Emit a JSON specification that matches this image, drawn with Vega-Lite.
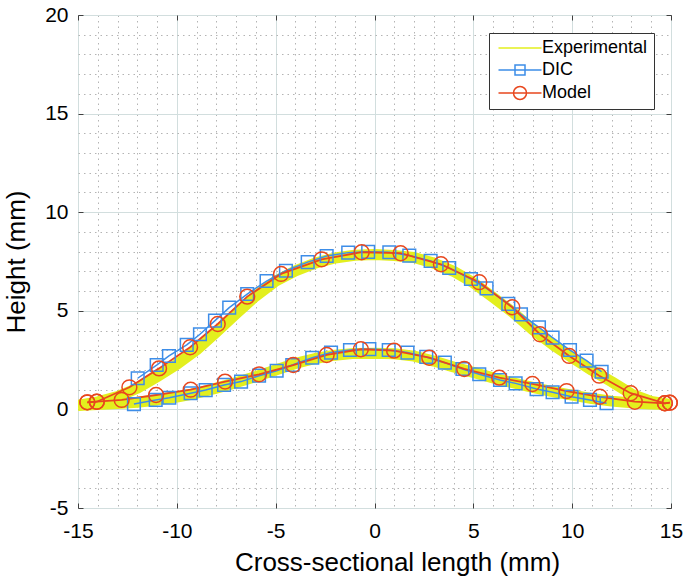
{
  "$schema": "https://vega.github.io/schema/vega-lite/v6.json",
  "width": 593,
  "height": 493,
  "autosize": {"type": "none"},
  "padding": {"left": 78, "top": 15, "right": 14, "bottom": 71},
  "background": "white",
  "config": {
    "view": {"stroke": "#404040", "strokeWidth": 1},
    "font": "Liberation Sans"
  },
  "datasets": {
    "pts": [
      {"s": "Experimental", "c": "upper", "x": -15, "y": 0.2},
      {"s": "Experimental", "c": "upper", "x": -14, "y": 0.38},
      {"s": "Experimental", "c": "upper", "x": -13, "y": 0.65},
      {"s": "Experimental", "c": "upper", "x": -12, "y": 1.07},
      {"s": "Experimental", "c": "upper", "x": -11, "y": 1.66},
      {"s": "Experimental", "c": "upper", "x": -10, "y": 2.28},
      {"s": "Experimental", "c": "upper", "x": -9, "y": 3.02},
      {"s": "Experimental", "c": "upper", "x": -8, "y": 3.92},
      {"s": "Experimental", "c": "upper", "x": -7, "y": 4.85},
      {"s": "Experimental", "c": "upper", "x": -6, "y": 5.75},
      {"s": "Experimental", "c": "upper", "x": -5, "y": 6.5},
      {"s": "Experimental", "c": "upper", "x": -4, "y": 7.02},
      {"s": "Experimental", "c": "upper", "x": -3, "y": 7.42},
      {"s": "Experimental", "c": "upper", "x": -2, "y": 7.68},
      {"s": "Experimental", "c": "upper", "x": -1, "y": 7.82},
      {"s": "Experimental", "c": "upper", "x": 0, "y": 7.85},
      {"s": "Experimental", "c": "upper", "x": 1, "y": 7.8},
      {"s": "Experimental", "c": "upper", "x": 2, "y": 7.7},
      {"s": "Experimental", "c": "upper", "x": 3, "y": 7.42},
      {"s": "Experimental", "c": "upper", "x": 4, "y": 7.0},
      {"s": "Experimental", "c": "upper", "x": 5, "y": 6.42},
      {"s": "Experimental", "c": "upper", "x": 6, "y": 5.68},
      {"s": "Experimental", "c": "upper", "x": 7, "y": 4.92},
      {"s": "Experimental", "c": "upper", "x": 8, "y": 4.05},
      {"s": "Experimental", "c": "upper", "x": 9, "y": 3.3},
      {"s": "Experimental", "c": "upper", "x": 10, "y": 2.62},
      {"s": "Experimental", "c": "upper", "x": 11, "y": 1.98},
      {"s": "Experimental", "c": "upper", "x": 12, "y": 1.4},
      {"s": "Experimental", "c": "upper", "x": 13, "y": 0.78},
      {"s": "Experimental", "c": "upper", "x": 14, "y": 0.4},
      {"s": "Experimental", "c": "upper", "x": 15, "y": 0.25},
      {"s": "Experimental", "c": "lower", "x": -15, "y": 0.2},
      {"s": "Experimental", "c": "lower", "x": -14, "y": 0.25},
      {"s": "Experimental", "c": "lower", "x": -13, "y": 0.3},
      {"s": "Experimental", "c": "lower", "x": -12, "y": 0.36},
      {"s": "Experimental", "c": "lower", "x": -11, "y": 0.48},
      {"s": "Experimental", "c": "lower", "x": -10, "y": 0.63},
      {"s": "Experimental", "c": "lower", "x": -9, "y": 0.82},
      {"s": "Experimental", "c": "lower", "x": -8, "y": 1.08},
      {"s": "Experimental", "c": "lower", "x": -7, "y": 1.36},
      {"s": "Experimental", "c": "lower", "x": -6, "y": 1.67},
      {"s": "Experimental", "c": "lower", "x": -5, "y": 2.0},
      {"s": "Experimental", "c": "lower", "x": -4, "y": 2.33},
      {"s": "Experimental", "c": "lower", "x": -3, "y": 2.58},
      {"s": "Experimental", "c": "lower", "x": -2, "y": 2.75},
      {"s": "Experimental", "c": "lower", "x": -1, "y": 2.84},
      {"s": "Experimental", "c": "lower", "x": 0, "y": 2.85},
      {"s": "Experimental", "c": "lower", "x": 1, "y": 2.82},
      {"s": "Experimental", "c": "lower", "x": 2, "y": 2.7},
      {"s": "Experimental", "c": "lower", "x": 3, "y": 2.45},
      {"s": "Experimental", "c": "lower", "x": 4, "y": 2.15},
      {"s": "Experimental", "c": "lower", "x": 5, "y": 1.88},
      {"s": "Experimental", "c": "lower", "x": 6, "y": 1.6},
      {"s": "Experimental", "c": "lower", "x": 7, "y": 1.35},
      {"s": "Experimental", "c": "lower", "x": 8, "y": 1.12},
      {"s": "Experimental", "c": "lower", "x": 9, "y": 0.9},
      {"s": "Experimental", "c": "lower", "x": 10, "y": 0.72},
      {"s": "Experimental", "c": "lower", "x": 11, "y": 0.55},
      {"s": "Experimental", "c": "lower", "x": 12, "y": 0.42},
      {"s": "Experimental", "c": "lower", "x": 13, "y": 0.33},
      {"s": "Experimental", "c": "lower", "x": 14, "y": 0.27},
      {"s": "Experimental", "c": "lower", "x": 15, "y": 0.25},

      {"s": "DIC", "c": "upper", "x": -11.98, "y": 1.58},
      {"s": "DIC", "c": "upper", "x": -11.02, "y": 2.25},
      {"s": "DIC", "c": "upper", "x": -10.4, "y": 2.71},
      {"s": "DIC", "c": "upper", "x": -9.5, "y": 3.27},
      {"s": "DIC", "c": "upper", "x": -8.83, "y": 3.81},
      {"s": "DIC", "c": "upper", "x": -8.07, "y": 4.5},
      {"s": "DIC", "c": "upper", "x": -7.35, "y": 5.16},
      {"s": "DIC", "c": "upper", "x": -6.44, "y": 5.85},
      {"s": "DIC", "c": "upper", "x": -5.46, "y": 6.51},
      {"s": "DIC", "c": "upper", "x": -4.48, "y": 7.03},
      {"s": "DIC", "c": "upper", "x": -3.38, "y": 7.47},
      {"s": "DIC", "c": "upper", "x": -2.42, "y": 7.78},
      {"s": "DIC", "c": "upper", "x": -1.33, "y": 7.95},
      {"s": "DIC", "c": "upper", "x": -0.32, "y": 7.99},
      {"s": "DIC", "c": "upper", "x": 0.75, "y": 7.97},
      {"s": "DIC", "c": "upper", "x": 1.76, "y": 7.8},
      {"s": "DIC", "c": "upper", "x": 2.84, "y": 7.53},
      {"s": "DIC", "c": "upper", "x": 3.78, "y": 7.17},
      {"s": "DIC", "c": "upper", "x": 4.88, "y": 6.61},
      {"s": "DIC", "c": "upper", "x": 5.67, "y": 6.14},
      {"s": "DIC", "c": "upper", "x": 6.77, "y": 5.35},
      {"s": "DIC", "c": "upper", "x": 7.41, "y": 4.82},
      {"s": "DIC", "c": "upper", "x": 8.32, "y": 4.16},
      {"s": "DIC", "c": "upper", "x": 9.01, "y": 3.64},
      {"s": "DIC", "c": "upper", "x": 9.89, "y": 3.01},
      {"s": "DIC", "c": "upper", "x": 10.73, "y": 2.47},
      {"s": "DIC", "c": "upper", "x": 11.49, "y": 1.91},
      {"s": "DIC", "c": "lower", "x": -12.17, "y": 0.27},
      {"s": "DIC", "c": "lower", "x": -11.07, "y": 0.48},
      {"s": "DIC", "c": "lower", "x": -10.38, "y": 0.59},
      {"s": "DIC", "c": "lower", "x": -9.3, "y": 0.82},
      {"s": "DIC", "c": "lower", "x": -8.54, "y": 0.98},
      {"s": "DIC", "c": "lower", "x": -7.61, "y": 1.24},
      {"s": "DIC", "c": "lower", "x": -6.75, "y": 1.41},
      {"s": "DIC", "c": "lower", "x": -5.84, "y": 1.71},
      {"s": "DIC", "c": "lower", "x": -4.95, "y": 1.96},
      {"s": "DIC", "c": "lower", "x": -4.16, "y": 2.25},
      {"s": "DIC", "c": "lower", "x": -3.15, "y": 2.62},
      {"s": "DIC", "c": "lower", "x": -2.2, "y": 2.88},
      {"s": "DIC", "c": "lower", "x": -1.24, "y": 3.01},
      {"s": "DIC", "c": "lower", "x": -0.26, "y": 3.06},
      {"s": "DIC", "c": "lower", "x": 0.72, "y": 3.01},
      {"s": "DIC", "c": "lower", "x": 1.67, "y": 2.88},
      {"s": "DIC", "c": "lower", "x": 2.62, "y": 2.66},
      {"s": "DIC", "c": "lower", "x": 3.56, "y": 2.37},
      {"s": "DIC", "c": "lower", "x": 4.45, "y": 2.05},
      {"s": "DIC", "c": "lower", "x": 5.3, "y": 1.78},
      {"s": "DIC", "c": "lower", "x": 6.35, "y": 1.49},
      {"s": "DIC", "c": "lower", "x": 7.14, "y": 1.32},
      {"s": "DIC", "c": "lower", "x": 8.2, "y": 1.03},
      {"s": "DIC", "c": "lower", "x": 9.01, "y": 0.87},
      {"s": "DIC", "c": "lower", "x": 9.97, "y": 0.64},
      {"s": "DIC", "c": "lower", "x": 10.9, "y": 0.48},
      {"s": "DIC", "c": "lower", "x": 11.74, "y": 0.31},

      {"s": "Model", "c": "upper", "x": -14.53, "y": 0.36},
      {"s": "Model", "c": "upper", "x": -14.05, "y": 0.39},
      {"s": "Model", "c": "upper", "x": -12.4, "y": 1.12},
      {"s": "Model", "c": "upper", "x": -10.9, "y": 2.08},
      {"s": "Model", "c": "upper", "x": -9.33, "y": 3.15},
      {"s": "Model", "c": "upper", "x": -7.93, "y": 4.33},
      {"s": "Model", "c": "upper", "x": -6.44, "y": 5.72},
      {"s": "Model", "c": "upper", "x": -4.73, "y": 6.87},
      {"s": "Model", "c": "upper", "x": -2.67, "y": 7.61},
      {"s": "Model", "c": "upper", "x": -0.65, "y": 7.97},
      {"s": "Model", "c": "upper", "x": 1.32, "y": 7.92},
      {"s": "Model", "c": "upper", "x": 3.36, "y": 7.36},
      {"s": "Model", "c": "upper", "x": 5.3, "y": 6.45},
      {"s": "Model", "c": "upper", "x": 6.97, "y": 5.18},
      {"s": "Model", "c": "upper", "x": 8.37, "y": 3.81},
      {"s": "Model", "c": "upper", "x": 9.85, "y": 2.71},
      {"s": "Model", "c": "upper", "x": 11.37, "y": 1.71},
      {"s": "Model", "c": "upper", "x": 12.96, "y": 0.82},
      {"s": "Model", "c": "upper", "x": 14.69, "y": 0.31},
      {"s": "Model", "c": "upper", "x": 14.94, "y": 0.34},
      {"s": "Model", "c": "lower", "x": -14.53, "y": 0.36},
      {"s": "Model", "c": "lower", "x": -14.05, "y": 0.39},
      {"s": "Model", "c": "lower", "x": -12.79, "y": 0.48},
      {"s": "Model", "c": "lower", "x": -11.05, "y": 0.73},
      {"s": "Model", "c": "lower", "x": -9.3, "y": 1.0},
      {"s": "Model", "c": "lower", "x": -7.56, "y": 1.41},
      {"s": "Model", "c": "lower", "x": -5.84, "y": 1.78},
      {"s": "Model", "c": "lower", "x": -4.11, "y": 2.25},
      {"s": "Model", "c": "lower", "x": -2.42, "y": 2.76},
      {"s": "Model", "c": "lower", "x": -0.69, "y": 3.05},
      {"s": "Model", "c": "lower", "x": 0.99, "y": 2.98},
      {"s": "Model", "c": "lower", "x": 2.77, "y": 2.62},
      {"s": "Model", "c": "lower", "x": 4.54, "y": 2.05},
      {"s": "Model", "c": "lower", "x": 6.31, "y": 1.61},
      {"s": "Model", "c": "lower", "x": 7.99, "y": 1.29},
      {"s": "Model", "c": "lower", "x": 9.72, "y": 0.93},
      {"s": "Model", "c": "lower", "x": 11.4, "y": 0.64},
      {"s": "Model", "c": "lower", "x": 13.17, "y": 0.39},
      {"s": "Model", "c": "lower", "x": 14.69, "y": 0.31},
      {"s": "Model", "c": "lower", "x": 14.94, "y": 0.34}
    ]
  },
  "data": {"name": "pts"},
  "resolve": {"axis": {"x": "independent", "y": "independent"}},
  "layer": [
    {
      "transform": [{"filter": "datum.s === 'Experimental'"}],
      "mark": {"type": "line", "strokeWidth": 11, "strokeCap": "butt", "strokeJoin": "round", "clip": true},
      "encoding": {
        "x": {
          "field": "x", "type": "quantitative",
          "scale": {"domain": [-15, 15], "nice": false, "zero": false},
          "axis": {
            "title": "Cross-sectional length (mm)",
            "titleFont": "Liberation Sans", "titleFontSize": 26, "titleFontWeight": "normal", "titleColor": "#000", "titlePadding": 8,
            "titleX": 319, "titleAlign": "center",
            "values": [-15,-14,-13,-12,-11,-10,-9,-8,-7,-6,-5,-4,-3,-2,-1,0,1,2,3,4,5,6,7,8,9,10,11,12,13,14,15],
            "labelExpr": "datum.value % 5 === 0 ? datum.value : ''",
            "labelFont": "Liberation Sans", "labelFontSize": 21, "labelColor": "#000", "labelPadding": 17, "labelFlush": false, "labelOverlap": false,
            "domain": false,
            "ticks": true,
            "tickSize": -5,
            "tickColor": "#404040",
            "tickOpacity": {"condition": {"test": "datum.value % 5 === 0", "value": 1}, "value": 0},
            "grid": true,
            "gridColor": {"condition": {"test": "datum.value % 5 === 0", "value": "#d2dede"}, "value": "#b4b4b4"},
            "gridDash": {"condition": {"test": "datum.value % 5 === 0", "value": []}, "value": [1.5, 4]},
            "gridWidth": 1
          }
        },
        "y": {
          "field": "y", "type": "quantitative",
          "scale": {"domain": [-5, 20], "nice": false, "zero": false},
          "axis": {
            "title": "Height (mm)",
            "titleFont": "Liberation Sans", "titleFontSize": 26, "titleFontWeight": "normal", "titleColor": "#000", "titlePadding": 15,
            "values": [-5,-4,-3,-2,-1,0,1,2,3,4,5,6,7,8,9,10,11,12,13,14,15,16,17,18,19,20],
            "labelExpr": "datum.value % 5 === 0 ? datum.value : ''",
            "labelFont": "Liberation Sans", "labelFontSize": 21, "labelColor": "#000", "labelPadding": 15, "labelFlush": false, "labelOverlap": false,
            "domain": false,
            "ticks": true,
            "tickSize": -5,
            "tickColor": "#404040",
            "tickOpacity": {"condition": {"test": "datum.value % 5 === 0", "value": 1}, "value": 0},
            "grid": true,
            "gridColor": {"condition": {"test": "datum.value % 5 === 0", "value": "#d2dede"}, "value": "#b4b4b4"},
            "gridDash": {"condition": {"test": "datum.value % 5 === 0", "value": []}, "value": [1.5, 4]},
            "gridWidth": 1
          }
        },
        "detail": {"field": "c"},
        "color": {
          "field": "s", "type": "nominal",
          "scale": {"domain": ["Experimental", "DIC", "Model"], "range": ["#E3EF1E", "#3D8DE8", "#E8471E"]},
          "legend": {
            "title": null,
            "orient": "none",
            "legendX": 411,
            "legendY": 18,
            "symbolSize": 16,
            "symbolStrokeWidth": 1.5,
            "symbolOffset": 16,
            "labelFont": "Liberation Sans",
            "labelFontSize": 18,
            "labelColor": "#000",
            "labelOffset": 13,
            "strokeColor": "#333333",
            "fillColor": "#ffffff",
            "padding": 6,
            "rowPadding": 4,
            "encode": {
              "symbols": {
                "update": {
                  "shape": {"signal": "datum.value === 'Experimental' ? 'M-10.75,0H10.75' : datum.value === 'DIC' ? 'M-10.75,0H10.75M-2.5,-2.5H2.5V2.5H-2.5Z' : 'M-10.75,0H10.75M3.25,0A3.25,3.25,0,1,1,-3.25,0A3.25,3.25,0,1,1,3.25,0Z'"},
                  "fill": {"value": "transparent"},
                  "stroke": {"signal": "datum.value === 'Experimental' ? '#E6F05A' : datum.value === 'DIC' ? '#3D8DE8' : '#E8471E'"},
                  "strokeWidth": {"value": 1.5},
                  "opacity": {"value": 1}
                }
              }
            }
          }
        }
      }
    },
    {
      "transform": [{"filter": "datum.s === 'DIC'"}],
      "mark": {"type": "line", "strokeWidth": 1.5},
      "encoding": {
        "x": {"field": "x", "type": "quantitative", "axis": null},
        "y": {"field": "y", "type": "quantitative", "axis": null},
        "detail": {"field": "c"},
        "color": {"field": "s", "type": "nominal"}
      }
    },
    {
      "transform": [{"filter": "datum.s === 'Model'"}],
      "mark": {"type": "line", "strokeWidth": 1.8},
      "encoding": {
        "x": {"field": "x", "type": "quantitative", "axis": null},
        "y": {"field": "y", "type": "quantitative", "axis": null},
        "detail": {"field": "c"},
        "color": {"field": "s", "type": "nominal"}
      }
    },
    {
      "transform": [{"filter": "datum.s === 'DIC'"}],
      "mark": {"type": "point", "shape": "square", "filled": false, "size": 160, "strokeWidth": 1.5, "opacity": 1},
      "encoding": {
        "x": {"field": "x", "type": "quantitative", "axis": {"orient": "top", "values": [-15,-10,-5,0,5,10,15], "labels": false, "title": null, "grid": false, "domain": false, "tickSize": -5, "tickColor": "#404040"}},
        "y": {"field": "y", "type": "quantitative", "axis": {"orient": "right", "values": [-5,0,5,10,15,20], "labels": false, "title": null, "grid": false, "domain": false, "tickSize": -5, "tickColor": "#404040"}},
        "color": {"field": "s", "type": "nominal"}
      }
    },
    {
      "transform": [{"filter": "datum.s === 'Model'"}],
      "mark": {"type": "point", "shape": "circle", "filled": false, "size": 220, "strokeWidth": 1.5, "opacity": 1},
      "encoding": {
        "x": {"field": "x", "type": "quantitative", "axis": null},
        "y": {"field": "y", "type": "quantitative", "axis": null},
        "color": {"field": "s", "type": "nominal"}
      }
    }
  ]
}
